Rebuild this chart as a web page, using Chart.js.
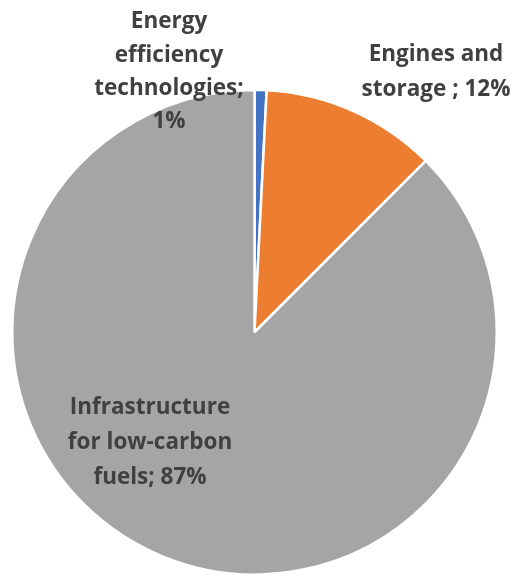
<!DOCTYPE html>
<html>
<head>
<meta charset="utf-8">
<script src="https://cdn.jsdelivr.net/npm/chart.js@4/dist/chart.umd.min.js"></script>
<style>
  html, body { margin: 0; padding: 0; background: #ffffff; }
  #wrap { width: 518px; height: 576px; position: relative; }
</style>
</head>
<body>
<div id="wrap"><canvas id="c" width="518" height="576"></canvas></div>
<script>
const categories = ["Energy efficiency technologies", "Engines and storage", "Infrastructure for low-carbon fuels"];
const values = [0.8, 11.7, 87.5];
const percentLabels = ["1%", "12%", "87%"];
const labelLines = [
  ["Energy", "efficiency", "technologies;", percentLabels[0]],
  ["Engines and", "storage ; " + percentLabels[1]],
  ["Infrastructure", "for low-carbon", "fuels; " + percentLabels[2]]
];
const colors = ["#4472C4", "#ED7D31", "#A5A5A5"];

const labelPlugin = {
  id: "pieLabels",
  afterDraw(chart) {
    const ctx = chart.ctx;
    const anchors = [
      { x: 169, y: 22, lh: 33.3 },
      { x: 436, y: 55, lh: 34.5 },
      { x: 150, y: 408, lh: 35 }
    ];
    ctx.save();
    ctx.fillStyle = "#404040";
    ctx.font = "bold 22.5px 'Open Sans'";
    ctx.textAlign = "center";
    ctx.textBaseline = "middle";
    labelLines.forEach((lines, i) => {
      const a = anchors[i];
      lines.forEach((t, j) => ctx.fillText(t, a.x, a.y + j * a.lh));
    });
    ctx.restore();
  }
};

new Chart(document.getElementById("c"), {
  type: "pie",
  data: {
    labels: categories,
    datasets: [{
      data: values,
      backgroundColor: colors,
      borderColor: "#ffffff",
      borderWidth: 2.5
    }]
  },
  options: {
    responsive: false,
    animation: false,
    layout: { padding: { left: 11, right: 20, top: 88.5, bottom: 0 } },
    plugins: {
      legend: { display: false },
      tooltip: { enabled: false },
      title: { display: false }
    }
  },
  plugins: [labelPlugin]
});
</script>
</body>
</html>
